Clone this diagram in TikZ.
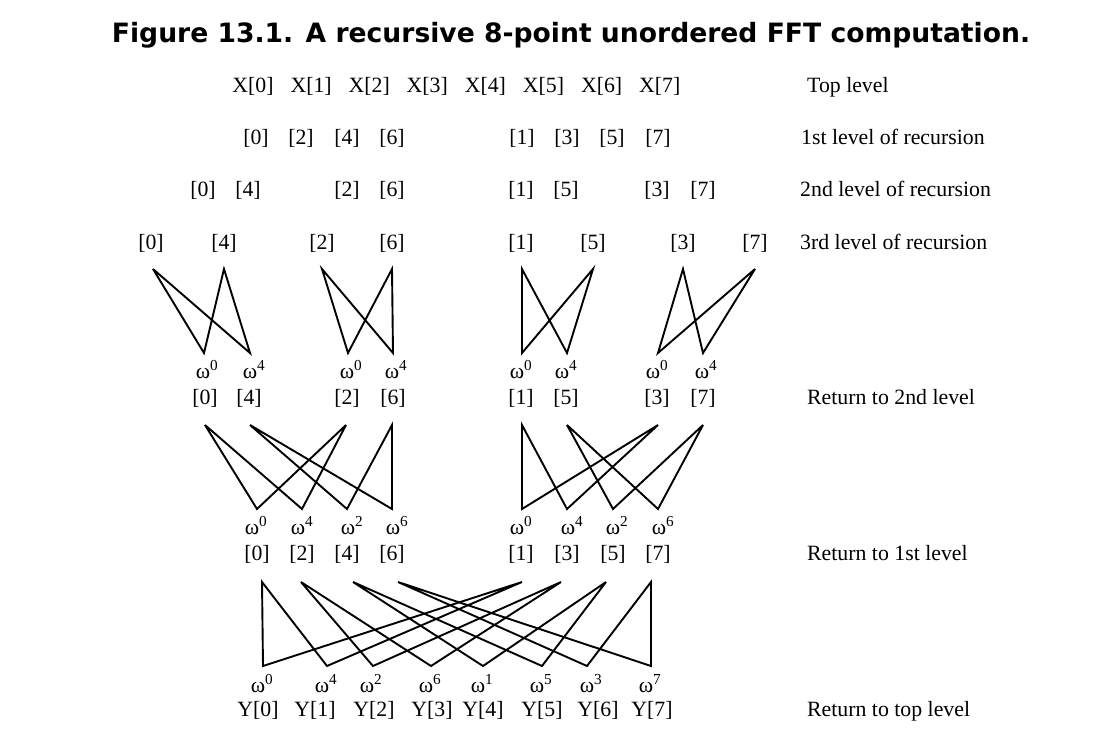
\documentclass[tikz,border=0pt]{standalone}
\usepackage{fontspec}
\setmainfont{Liberation Serif}
\newfontfamily\titlefont{DejaVu Sans}
\newcommand\omg[1]{ω\textsuperscript{#1}}
\begin{document}
\begin{tikzpicture}[x=1pt,y=-1pt,
  lbl/.style={font=\fontsize{21.8}{24}\selectfont, inner sep=0pt, anchor=base},
  side/.style={lbl, anchor=base west},
  wire/.style={line width=1.9pt, line join=miter, miter limit=6}]
\useasboundingbox[fill=white] (0,0) rectangle (1104,745);

% title
\node[inner sep=0pt, anchor=base] (title) at (571,42)
  {\resizebox{918pt}{!}{\titlefont\bfseries Figure 13.1. A recursive 8-point unordered FFT computation.}};

% top level
\foreach \k in {0,...,7}
  \node[lbl] (x\k) at ({253+58.1*\k},92) {X[\k]};
% 1st level
\foreach \x/\i in {256/0,301/2,347/4,392/6,522/1,567/3,612/5,658/7}
  \node[lbl] (r1n\i) at (\x,144) {[\i]};
% 2nd level
\foreach \x/\i in {203/0,248/4,347/2,392/6,521/1,566/5,657/3,703/7}
  \node[lbl] (r2n\i) at (\x,196) {[\i]};
% 3rd level
\foreach \x/\i in {151/0,224/4,322/2,392/6,521/1,593/5,683/3,755/7}
  \node[lbl] (r3n\i) at (\x,249) {[\i]};

% return to 2nd level
\foreach \x/\e/\n in {207/0/a,254/4/b,351/0/c,396/4/d,521/0/e,566/4/f,657/0/g,706/4/h}
  \node[lbl] (w2\n) at (\x,378) {\omg{\e}};
\foreach \x/\i in {205/0,249/4,347/2,393/6,521/1,566/5,657/3,703/7}
  \node[lbl] (q2n\i) at (\x,404) {[\i]};

% return to 1st level
\foreach \x/\e/\n in {256/0/a,302/4/b,352/2/c,397/6/d,521/0/e,572/4/f,617/2/g,663/6/h}
  \node[lbl] (w1\n) at (\x,534) {\omg{\e}};
\foreach \x/\i in {257/0,302/2,347/4,392/6,521/1,567/3,613/5,658/7}
  \node[lbl] (q1n\i) at (\x,560) {[\i]};

% return to top level
\foreach \x/\e/\n in {262/0/a,326/4/b,371/2/c,430/6/d,482/1/e,541/5/f,591/3/g,650/7/h}
  \node[lbl] (w0\n) at (\x,692) {\omg{\e}};
\foreach \x/\i in {258/0,315/1,374/2,432/3,483/4,542/5,598/6,652/7}
  \node[lbl] (y\i) at (\x,716) {Y[\i]};

% side labels
\node[side] (s0) at (807,92) {Top level};
\node[side] (s1) at (801,144) {1st level of recursion};
\node[side] (s2) at (800,196) {2nd level of recursion};
\node[side] (s3) at (800,249) {3rd level of recursion};
\node[side] (s4) at (807,404) {Return to 2nd level};
\node[side] (s5) at (807,560) {Return to 1st level};
\node[side] (s6) at (807,716) {Return to top level};

% stage 1 butterflies
\foreach \i/\x in {1/153,2/224,3/322,4/392,5/522,6/593,7/683,8/755}
  \coordinate (a\i) at (\x,269);
\foreach \i/\x in {1/204,2/250,3/348,4/393,5/522,6/567,7/658,8/703}
  \coordinate (b\i) at (\x,353);
\foreach \p/\q in {1/2,3/4,5/6,7/8}
  \draw[wire] (a\p) -- (b\p) -- (a\q) -- (b\q) -- cycle;

% stage 2 butterflies
\foreach \i/\x in {1/205,2/250,3/346,4/392,5/522,6/567,7/658,8/703}
  \coordinate (c\i) at (\x,425);
\foreach \i/\x in {1/257,2/302,3/347,4/392,5/522,6/567,7/613,8/658}
  \coordinate (d\i) at (\x,509);
\foreach \t/\u/\p/\q in {1/3/1/2,2/4/3/4,5/7/5/6,6/8/7/8}
  \draw[wire] (c\t) -- (d\p) -- (c\u) -- (d\q) -- cycle;

% stage 3 butterflies
\foreach \i/\x in {1/262,2/301,3/353,4/398,5/522,6/561,7/606,8/651}
  \coordinate (e\i) at (\x,582);
\foreach \i/\x in {1/263,2/327,3/373,4/431,5/483,6/542,7/587,8/651}
  \coordinate (f\i) at (\x,666);
\foreach \t/\u/\p/\q in {1/5/1/2,2/6/3/4,3/7/5/6,4/8/7/8}
  \draw[wire] (e\t) -- (f\p) -- (e\u) -- (f\q) -- cycle;
\end{tikzpicture}
\end{document}
